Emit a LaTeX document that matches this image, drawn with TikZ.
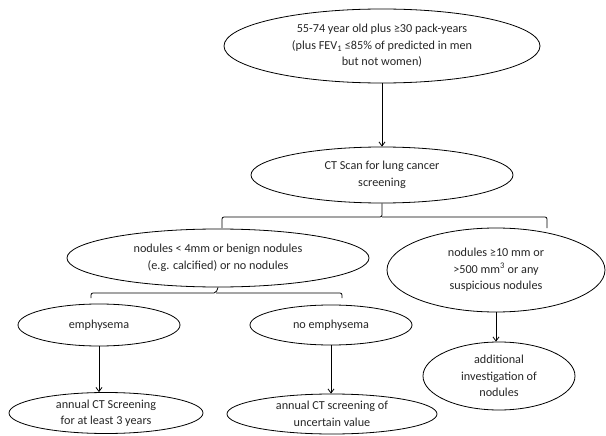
\documentclass[tikz,border=0pt]{standalone}
\usepackage{fontspec}
\setmainfont{Carlito}
\usepackage{tikz}
\usetikzlibrary{arrows.meta, shapes.geometric}

\begin{document}
\begin{tikzpicture}[x=1pt, y=-1pt, line width=0.8pt,
  oval/.style={draw, ellipse, inner sep=0pt, align=center, text=black!85,
    font=\fontsize{12.2}{16.5}\selectfont},
  arr/.style={-{Straight Barb[length=4pt, width=6pt]}}]
\useasboundingbox (0,0) rectangle (606,436);
\node[oval, minimum width=316, minimum height=74] (top) at (382,46)
  {55-74 year old plus ≥30 pack-years\\(plus FEV\textsubscript{1} ≤85\% of predicted in men\\but not women)};
\node[oval, minimum width=262, minimum height=56] (ct) at (382,175)
  {CT Scan for lung cancer\\screening};
\node[oval, minimum width=302, minimum height=58] (lft) at (218,258)
  {nodules < 4mm or benign nodules\\(e.g. calcified) or no nodules};
\node[oval, minimum width=218, minimum height=84] (rgt) at (496,270)
  {nodules ≥10 mm or\\>500 mm\textsuperscript{3} or any\\suspicious nodules};
\node[oval, minimum width=162, minimum height=42] (emph) at (99,325) {emphysema};
\node[oval, minimum width=162, minimum height=40] (noemph) at (331,325) {no emphysema};
\node[oval, minimum width=194, minimum height=41] (ann1) at (106,413)
  {annual CT Screening\\for at least 3 years};
\node[oval, minimum width=210, minimum height=40] (ann2) at (332,414)
  {annual CT screening of\\uncertain value};
\node[oval, minimum width=152, minimum height=68] (add) at (499,376)
  {additional\\investigation of\\nodules};
% brace ends
\coordinate (b1) at (382,217);
\coordinate (b1l) at (222,228);
\coordinate (b1r) at (547,228);
\coordinate (b2) at (216,293);
\coordinate (b2l) at (91,298);
\coordinate (b2r) at (342,298);
\draw[rounded corners=2pt] (ct.south) -- (b1) -| (b1l);
\draw[rounded corners=2pt] (b1) -| (b1r);
\draw[rounded corners=2pt] (lft.south) -- (b2) -| (b2l);
\draw[rounded corners=2pt] (b2) -| (b2r);
\foreach \a/\b in {top/ct, emph/ann1, noemph/ann2, rgt/add}
  \draw[arr] (\a.south) -- (\a.south |- \b.north);
\end{tikzpicture}
\end{document}
